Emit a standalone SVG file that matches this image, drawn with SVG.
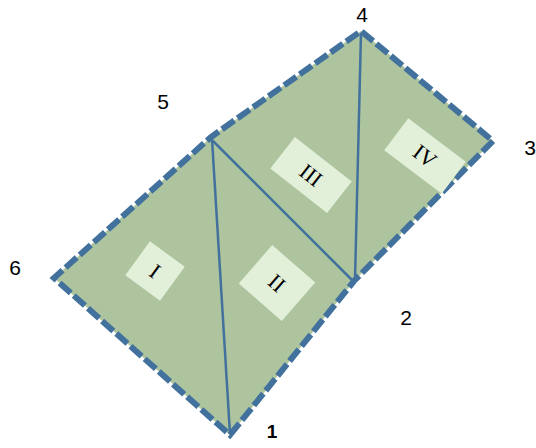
<svg xmlns="http://www.w3.org/2000/svg" width="536" height="448" viewBox="0 0 536 448">
<style>
.outline{fill:#ADC49E;stroke:#41719C;stroke-width:6;stroke-dasharray:15 4;stroke-linejoin:miter}
.inner{stroke:#41719C;stroke-width:2.5;fill:none}
.box{fill:#E2EFD9}
.rn{font-family:"Liberation Serif",serif;font-size:22px;fill:#000;text-anchor:middle}
.vl{font-family:"Liberation Sans",sans-serif;font-size:21px;fill:#000;text-anchor:middle}
</style>
<rect width="536" height="448" fill="#fff"/>
<g id="shape">
<polygon class="outline" points="230,435 354,281 493,141 361,31 211,137 54,278"/>
</g>
<g id="connectors">
<line class="inner" x1="212" y1="139" x2="230" y2="434"/>
<line class="inner" x1="213" y1="141" x2="353" y2="281"/>
<line class="inner" x1="361" y1="33" x2="355" y2="280"/>
</g>
<g id="region-I" transform="translate(155,271) rotate(36)">
<rect class="box" x="-21.5" y="-21" width="43" height="42"/>
<text class="rn" x="0" y="7.5">I</text>
</g>
<g id="region-II" transform="translate(277,283) rotate(41)">
<rect class="box" x="-28.5" y="-25.5" width="57" height="51"/>
<text class="rn" x="0" y="7.5">II</text>
</g>
<g id="region-III" transform="translate(311,175) rotate(38)">
<rect class="box" x="-36" y="-20" width="72" height="40"/>
<text class="rn" x="0" y="7.5">III</text>
</g>
<g id="region-IV" transform="translate(425,156) rotate(37)">
<rect class="box" x="-36" y="-20" width="72" height="40"/>
<text class="rn" x="0" y="7.5">IV</text>
</g>
<g id="labels">
<text class="vl" x="272" y="438" style="font-weight:bold;font-size:19px">1</text>
<text class="vl" x="406" y="325">2</text>
<text class="vl" x="530" y="155">3</text>
<text class="vl" x="362" y="22">4</text>
<text class="vl" x="163" y="109">5</text>
<text class="vl" x="15" y="275">6</text>
</g>
</svg>
